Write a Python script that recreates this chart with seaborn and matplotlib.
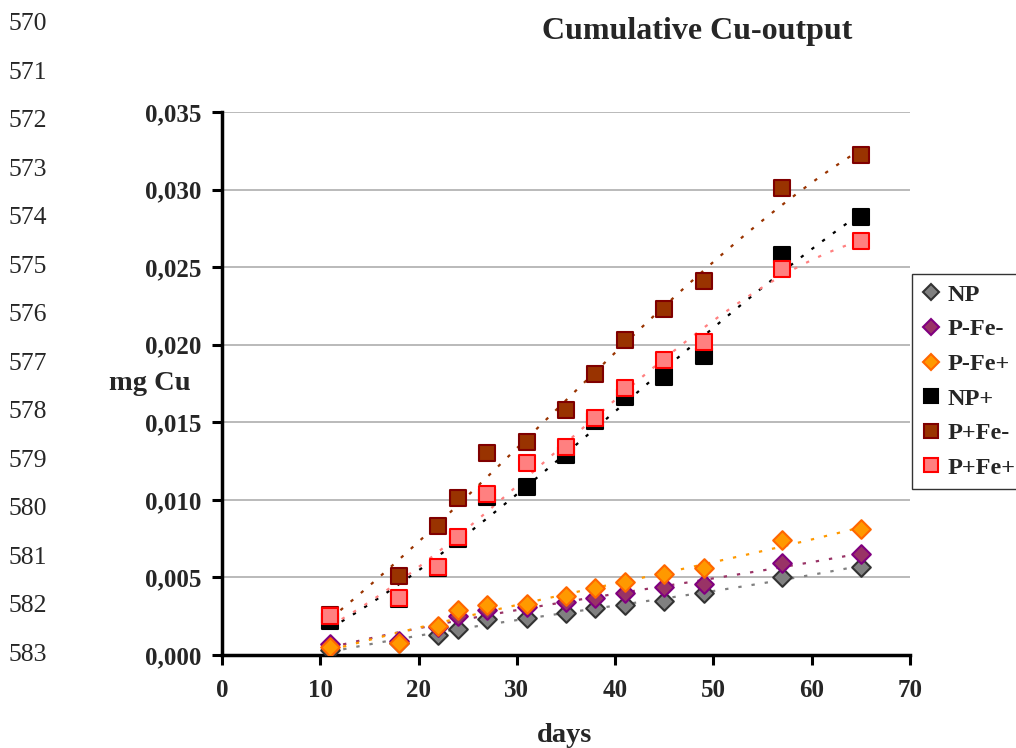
import numpy as np
import pandas as pd
import matplotlib
matplotlib.use("Agg")
import matplotlib.pyplot as plt
import seaborn as sns
from matplotlib.lines import Line2D

# ---- data ----
days = [11, 18, 22, 24, 27, 31, 35, 38, 41, 45, 49, 57, 65]
np_vals    = [0.0003, 0.0008, 0.0013, 0.0017, 0.0023, 0.0024, 0.0027, 0.0030, 0.0032, 0.0035, 0.0040, 0.0050, 0.0057]
pfem_vals  = [0.0007, 0.0009, 0.0018, 0.0025, 0.0029, 0.0031, 0.0034, 0.0037, 0.0040, 0.0044, 0.0046, 0.0059, 0.0065]
pfep_vals  = [0.0005, 0.0008, 0.0019, 0.0029, 0.0032, 0.0033, 0.0038, 0.0043, 0.0047, 0.0052, 0.0056, 0.0074, 0.0081]
npp_vals   = [0.0022, 0.0036, 0.0056, 0.0075, 0.0102, 0.0108, 0.0129, 0.0151, 0.0166, 0.0179, 0.0193, 0.0258, 0.0282]
ppfem_vals = [0.0026, 0.0051, 0.0083, 0.0101, 0.0130, 0.0137, 0.0158, 0.0181, 0.0203, 0.0223, 0.0241, 0.0301, 0.0322]
ppfep_vals = [0.0025, 0.0037, 0.0057, 0.0076, 0.0104, 0.0124, 0.0134, 0.0153, 0.0172, 0.0190, 0.0202, 0.0249, 0.0267]

series_names = ["NP", "P-Fe-", "P-Fe+", "NP+", "P+Fe-", "P+Fe+"]
series_values = [np_vals, pfem_vals, pfep_vals, npp_vals, ppfem_vals, ppfep_vals]

x_ticks = [0, 10, 20, 30, 40, 50, 60, 70]
y_ticks = [0.000, 0.005, 0.010, 0.015, 0.020, 0.025, 0.030, 0.035]
y_tick_labels = ["0,000", "0,005", "0,010", "0,015", "0,020", "0,025", "0,030", "0,035"]
line_numbers = [str(n) for n in range(570, 584)]

title = "Cumulative Cu-output"
ylabel = "mg Cu"
xlabel = "days"

# ---- styles ----
styles = {
    "NP":    dict(marker="D", face="#808080", edge="#333333", line="#808080", ms=9.5),
    "P-Fe-": dict(marker="D", face="#993366", edge="#800080", line="#993366", ms=9.5),
    "P-Fe+": dict(marker="D", face="#FF9900", edge="#FF6600", line="#FF9900", ms=9.5),
    "NP+":   dict(marker="s", face="#000000", edge="#000000", line="#000000", ms=11),
    "P+Fe-": dict(marker="s", face="#993300", edge="#800000", line="#993300", ms=11),
    "P+Fe+": dict(marker="s", face="#FF8080", edge="#FF0000", line="#FF8080", ms=11),
}

sns.set_theme(style="white")
plt.rcParams["font.family"] = ["Liberation Serif", "DejaVu Serif"]

W, H = 1016, 748
fig = plt.figure(figsize=(W / 100, H / 100), dpi=100)
ax = fig.add_axes([222 / W, 1 - 655 / H, (910 - 222) / W, (655 - 112) / H])

ax.set_xlim(0, 70)
ax.set_ylim(0, 0.035)
for yv in y_ticks[1:]:
    ax.axhline(yv, color="#b4b4b4", lw=1.3, zorder=0)

rows = []
for name, vals in zip(series_names, series_values):
    for d, v in zip(days, vals):
        rows.append({"series": name, "days": d, "value": v})
df = pd.DataFrame(rows)

# trend lines (polynomial fits)
for name in series_names:
    st = styles[name]
    sub = df[df["series"] == name]
    sns.regplot(data=sub, x="days", y="value", order=3, scatter=False, ci=None,
                truncate=True, ax=ax,
                line_kws=dict(color=st["line"], lw=1.6, linestyle=(0, (1.5, 4.5)), zorder=2))

# markers
for name in series_names:
    st = styles[name]
    sub = df[df["series"] == name]
    sns.scatterplot(data=sub, x="days", y="value", ax=ax, marker=st["marker"],
                    s=st["ms"] ** 2, color=st["face"], edgecolor=st["edge"],
                    linewidth=1.5, zorder=3, legend=False)

ax.set_xlabel("")
ax.set_ylabel("")
ax.set_xticks(x_ticks)
ax.set_xticklabels([str(t) for t in x_ticks], fontsize=18, fontweight="bold")
ax.set_yticks(y_ticks)
ax.set_yticklabels(y_tick_labels, fontsize=18, fontweight="bold")
ax.tick_params(axis="both", direction="out", length=7, width=2.2, color="black",
               left=True, bottom=True)
ax.tick_params(axis="y", pad=8)
ax.tick_params(axis="x", pad=10)
for side in ["top", "right"]:
    ax.spines[side].set_visible(False)
for side in ["left", "bottom"]:
    ax.spines[side].set_color("black")
    ax.spines[side].set_linewidth(2.5)

# texts
fig.text(697 / W, 1 - 31 / H, title, ha="center", va="center", fontsize=23, fontweight="bold")
fig.text(150 / W, 1 - 383 / H, ylabel, ha="center", va="center", fontsize=20.5, fontweight="bold")
fig.text(565 / W, 1 - 735 / H, xlabel, ha="center", va="center", fontsize=20.5, fontweight="bold")
for i, ln in enumerate(line_numbers):
    y = 24 + i * (655 - 24) / 13
    fig.text(8 / W, 1 - y / H, ln, ha="left", va="center", fontsize=18.5)

# legend
handles = []
for name in series_names:
    st = styles[name]
    handles.append(Line2D([], [], linestyle="none", marker=st["marker"],
                          markersize=st["ms"] * 0.9, markerfacecolor=st["face"],
                          markeredgecolor=st["edge"], markeredgewidth=1.5))
leg = fig.legend(handles, series_names, loc="upper left",
                 bbox_to_anchor=(912 / W, 1 - 274 / H), frameon=True, fancybox=False,
                 edgecolor="black", prop=dict(size=17.5, weight="bold"),
                 handlelength=0.8, handletextpad=0.25, labelspacing=0.52,
                 borderpad=0.4, borderaxespad=0)
leg.get_frame().set_linewidth(1.0)

fig.savefig("out.png", dpi=100)
